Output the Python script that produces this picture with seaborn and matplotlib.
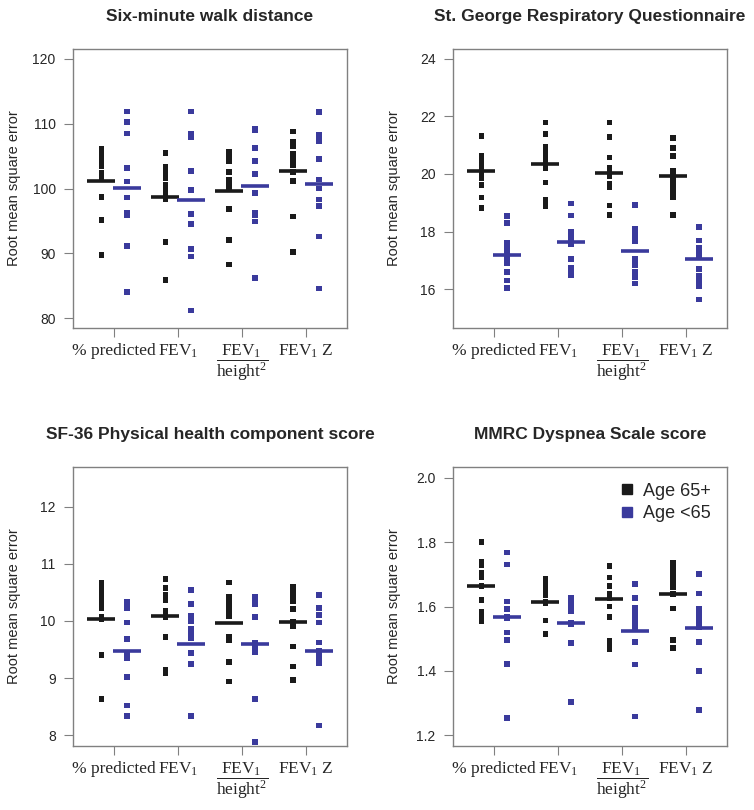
import numpy as np
import pandas as pd
import matplotlib
matplotlib.use("Agg")
import matplotlib.pyplot as plt
from matplotlib.lines import Line2D
import seaborn as sns

# Categorias del eje x (normalizacion del FEV1)
measures = ["% predicted", "FEV1", "FEV1/height2", "FEV1 Z"]
measure_labels = ["% predicted", r"FEV$_1$",
                  r"$\dfrac{\mathrm{FEV}_1}{\mathrm{height}^2}$", r"FEV$_1$ Z"]
ages = ["Age 65+", "Age <65"]

# Six-minute walk distance
walk_old = [[106.2, 105.6, 105.0, 104.3, 103.4, 102.5, 101.7, 98.7, 95.1, 89.8],
            [105.5, 103.4, 102.6, 101.6, 100.6, 99.6, 98.9, 98.3, 91.8, 85.9],
            [105.7, 105.0, 104.2, 102.6, 101.3, 100.5, 99.9, 96.9, 92.1, 88.3],
            [108.8, 107.2, 106.6, 105.3, 104.6, 103.6, 102.6, 101.2, 95.7, 90.2]]
walk_young = [[111.9, 110.3, 108.5, 103.2, 101.1, 98.6, 96.2, 95.9, 91.1, 84.1],
              [111.9, 108.4, 108.0, 102.7, 99.8, 96.1, 94.5, 90.7, 89.5, 81.2],
              [109.25, 109.0, 106.3, 104.3, 102.3, 99.3, 96.2, 95.9, 94.9, 86.2],
              [111.8, 108.3, 107.3, 104.6, 101.4, 100.0, 98.3, 97.3, 92.6, 84.6]]
walk_old_mean = [101.23, 98.77, 99.69, 102.67]
walk_young_mean = [100.15, 98.25, 100.36, 100.67]

# St. George Respiratory Questionnaire
sgrq_old = [[21.33, 20.62, 20.5, 20.35, 20.2, 20.0, 19.85, 19.62, 19.18, 18.81],
            [21.79, 21.39, 20.95, 20.75, 20.55, 20.35, 20.2, 19.7, 19.1, 18.88],
            [21.79, 21.28, 20.57, 20.2, 20.05, 19.92, 19.65, 19.56, 18.91, 18.58],
            [21.24, 20.9, 20.63, 20.1, 19.95, 19.75, 19.55, 19.35, 19.2, 18.58]]
sgrq_young = [[18.55, 18.3, 17.6, 17.4, 17.2, 17.0, 16.9, 16.6, 16.3, 16.05],
              [18.98, 18.56, 18.0, 17.8, 17.65, 17.55, 17.04, 16.75, 16.48, 16.6],
              [18.92, 18.1, 17.9, 17.65, 17.05, 16.85, 16.6, 16.4, 16.2, 17.75],
              [18.17, 17.69, 17.45, 17.3, 17.15, 16.69, 16.45, 16.25, 16.1, 15.64]]
sgrq_old_mean = [20.09, 20.35, 20.05, 19.93]
sgrq_young_mean = [17.20, 17.64, 17.34, 17.04]

# SF-36 Physical health component score
sf36_old = [[10.67, 10.57, 10.48, 10.4, 10.33, 10.23, 10.07, 10.03, 9.40, 8.63],
            [10.73, 10.58, 10.45, 10.37, 10.18, 10.12, 10.06, 9.72, 9.14, 9.08],
            [10.67, 10.42, 10.35, 10.25, 10.15, 10.09, 9.72, 9.66, 9.28, 8.94],
            [10.6, 10.5, 10.42, 10.35, 10.21, 9.98, 9.91, 9.55, 9.20, 8.97]]
sf36_young = [[10.33, 10.27, 10.22, 9.97, 9.68, 9.40, 9.35, 9.02, 8.52, 8.34],
              [10.54, 10.30, 10.08, 10.0, 9.86, 9.77, 9.70, 9.44, 9.24, 8.33],
              [10.42, 10.36, 10.30, 10.07, 9.61, 9.57, 9.53, 9.46, 8.63, 7.88],
              [10.45, 10.22, 10.1, 9.97, 9.62, 9.47, 9.38, 9.30, 9.26, 8.17]]
sf36_old_mean = [10.04, 10.08, 9.97, 9.98]
sf36_young_mean = [9.47, 9.59, 9.60, 9.47]

# MMRC Dyspnea Scale score
mmrc_old = [[1.80, 1.74, 1.73, 1.705, 1.69, 1.665, 1.62, 1.585, 1.57, 1.555],
            [1.686, 1.68, 1.673, 1.66, 1.648, 1.636, 1.615, 1.61, 1.557, 1.515],
            [1.727, 1.690, 1.664, 1.64, 1.625, 1.60, 1.567, 1.495, 1.48, 1.468],
            [1.735, 1.72, 1.705, 1.69, 1.675, 1.66, 1.64, 1.594, 1.497, 1.472]]
mmrc_young = [[1.768, 1.731, 1.616, 1.592, 1.569, 1.565, 1.52, 1.497, 1.422, 1.254],
              [1.628, 1.622, 1.618, 1.606, 1.594, 1.585, 1.55, 1.545, 1.488, 1.303],
              [1.670, 1.627, 1.595, 1.58, 1.565, 1.55, 1.535, 1.49, 1.42, 1.259],
              [1.701, 1.641, 1.592, 1.575, 1.56, 1.545, 1.535, 1.49, 1.40, 1.279]]
mmrc_old_mean = [1.665, 1.615, 1.624, 1.638]
mmrc_young_mean = [1.567, 1.548, 1.524, 1.533]

panels = [
    ("Six-minute walk distance", walk_old, walk_young, walk_old_mean, walk_young_mean,
     (78.5, 121.6), [80, 90, 100, 110, 120]),
    ("St. George Respiratory Questionnaire", sgrq_old, sgrq_young, sgrq_old_mean, sgrq_young_mean,
     (14.65, 24.36), [16, 18, 20, 22, 24]),
    ("SF-36 Physical health component score", sf36_old, sf36_young, sf36_old_mean, sf36_young_mean,
     (7.81, 12.70), [8, 9, 10, 11, 12]),
    ("MMRC Dyspnea Scale score", mmrc_old, mmrc_young, mmrc_old_mean, mmrc_young_mean,
     (1.167, 2.035), [1.2, 1.4, 1.6, 1.8, 2.0]),
]

colors = {"Age 65+": "#1a1a1a", "Age <65": "#3a3a9c"}

sns.set_style("ticks")
plt.rcParams.update({
    'font.family': ['Liberation Sans', 'DejaVu Sans'],
    'mathtext.fontset': 'custom',
    'mathtext.rm': 'Liberation Serif',
    'mathtext.it': 'Liberation Serif:italic',
    'mathtext.bf': 'Liberation Serif:bold',
})


def long_points(old, young):
    rows = []
    for m, vals in zip(measures, old):
        rows += [(m, ages[0], v) for v in vals]
    for m, vals in zip(measures, young):
        rows += [(m, ages[1], v) for v in vals]
    return pd.DataFrame(rows, columns=["measure", "age", "rmse"])


def long_means(old_mean, young_mean):
    rows = [(m, ages[0], v) for m, v in zip(measures, old_mean)]
    rows += [(m, ages[1], v) for m, v in zip(measures, young_mean)]
    return pd.DataFrame(rows, columns=["measure", "age", "rmse"])


fig = plt.figure(figsize=(7.54, 8.10), dpi=100)
positions = [(0.0968, 0.5951), (0.6008, 0.5951), (0.0968, 0.0790), (0.6008, 0.0790)]

for i, (title, old, young, old_mean, young_mean, ylim, yticks) in enumerate(panels):
    left, bottom = positions[i]
    ax = fig.add_axes([left, bottom, 0.3634, 0.345])
    df = long_points(old, young)
    dm = long_means(old_mean, young_mean)

    sns.stripplot(data=df, x="measure", y="rmse", hue="age", order=measures, hue_order=ages,
                  palette=colors, dodge=True, jitter=False, marker="s", size=4.1,
                  linewidth=0, ax=ax, legend=False, zorder=3)
    sns.pointplot(data=dm, x="measure", y="rmse", hue="age", order=measures, hue_order=ages,
                  palette=colors, dodge=0.4, markers="_", linestyles="none", errorbar=None,
                  markersize=20, markeredgewidth=2.6, ax=ax, legend=False)

    ax.set_xlim(-0.645, 3.64)
    ax.set_ylim(*ylim)
    ax.set_yticks(yticks)
    ax.set_xticks(range(4))
    ax.set_xticklabels(measure_labels, fontfamily='Liberation Serif', fontsize=12.5)
    ax.tick_params(axis='y', labelsize=10, length=6.5, width=0.8, color='#808080', pad=6)
    ax.tick_params(axis='x', length=6.5, width=0.8, color='#808080', pad=4)
    for sp in ax.spines.values():
        sp.set_visible(True)
        sp.set_color('#808080')
        sp.set_linewidth(1.0)

    ax.set_xlabel('')
    ax.set_ylabel('Root mean square error', fontsize=10.5)
    ax.yaxis.set_label_coords(-0.19, 0.5)
    ax.set_title(title, fontsize=12.5, fontweight='bold', pad=20)

    if i == 3:
        handles = [Line2D([], [], marker='s', linestyle='none', color=colors[a],
                          markersize=6.5) for a in ages]
        ax.legend(handles, ages, loc='upper right', frameon=False, fontsize=13,
                  handletextpad=0.3, labelspacing=0.3, handlelength=1.2,
                  borderaxespad=0.5)

plt.savefig("out.png", dpi=100)
